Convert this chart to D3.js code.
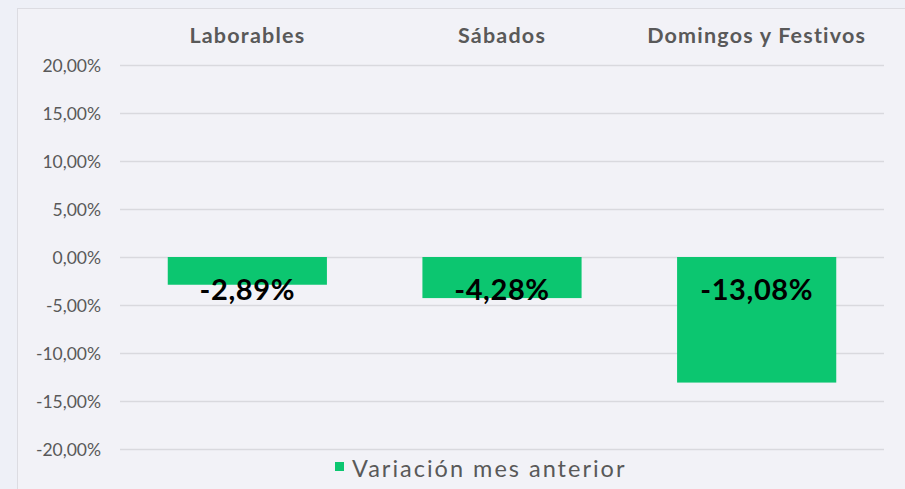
<!DOCTYPE html>
<html><head><meta charset="utf-8">
<script src="https://cdn.jsdelivr.net/npm/d3@7"></script>
<style>
html,body{margin:0;padding:0;background:#eef0f7;}
svg{display:block;}
</style></head>
<body>
<script>
const categories = ["Laborables", "Sábados", "Domingos y Festivos"];
const values = [-2.89, -4.28, -13.08];
const valueLabels = ["-2,89%", "-4,28%", "-13,08%"];
const yTicks = [20, 15, 10, 5, 0, -5, -10, -15, -20];
const seriesName = "Variación mes anterior";

const W = 905, H = 489;
const svg = d3.select("body").append("svg").attr("width", W).attr("height", H);

svg.append("rect").attr("x", 17.5).attr("y", 8.5).attr("width", W).attr("height", H)
  .attr("fill", "#f2f2f7").attr("stroke", "#dcdce2").attr("stroke-width", 1);

const x = d3.scaleBand().domain(categories).range([120, 884]).paddingInner(0.375).paddingOuter(0.1875);
const y = d3.scaleLinear().domain([-20, 20]).range([449, 65]);

const fmt = v => v.toFixed(2).replace(".", ",") + "%";

// gridlines
svg.append("g").selectAll("line").data(yTicks).join("line")
  .attr("x1", 120).attr("x2", 884)
  .attr("y1", d => Math.round(y(d)) + 0.5).attr("y2", d => Math.round(y(d)) + 0.5)
  .attr("stroke", "#d9d9de").attr("stroke-width", 1.5);

// y axis labels
const yAxis = d3.axisLeft(y).tickValues(yTicks).tickSize(0).tickPadding(0)
  .tickFormat(fmt);
const ya = svg.append("g").attr("transform", "translate(101,0)").call(yAxis);
ya.select(".domain").remove();
ya.selectAll("text").attr("font-family", "Lato, sans-serif").attr("font-size", 17.5)
  .attr("fill", "#595959").attr("dy", "0.35em");

// category labels top
const xAxis = d3.axisTop(x).tickSize(0).tickPadding(0);
const xa = svg.append("g").attr("transform", "translate(0,43)").call(xAxis);
xa.select(".domain").remove();
xa.selectAll("text").attr("font-family", "Lato, sans-serif").attr("font-weight", "bold")
  .attr("font-size", 21.5).attr("letter-spacing", 1.2).attr("fill", "#595959");

// bars
svg.append("g").selectAll("rect").data(categories).join("rect")
  .attr("x", d => x(d)).attr("width", x.bandwidth())
  .attr("y", (d, i) => y(Math.max(0, values[i])))
  .attr("height", (d, i) => Math.abs(y(values[i]) - y(0)))
  .attr("fill", "#0cc670");

// value labels
svg.append("g").selectAll("text").data(categories).join("text")
  .attr("x", d => x(d) + x.bandwidth() / 2)
  .attr("y", y(0) + 33)
  .attr("dy", "0.35em")
  .attr("text-anchor", "middle")
  .attr("font-family", "Lato, sans-serif").attr("font-size", 29).attr("font-weight", "bold")
  .attr("letter-spacing", 0.6)
  .attr("fill", "#000")
  .text((d, i) => valueLabels[i]);

// legend
const lg = svg.append("g");
lg.append("rect").attr("x", 335).attr("y", 462).attr("width", 9).attr("height", 9).attr("fill", "#0cc670");
lg.append("text").attr("x", 352).attr("y", 469).attr("dy", "0.35em")
  .attr("font-family", "Lato, sans-serif").attr("font-size", 23.5).attr("letter-spacing", 2)
  .attr("fill", "#595959")
  .text(seriesName);
</script>
</body></html>
